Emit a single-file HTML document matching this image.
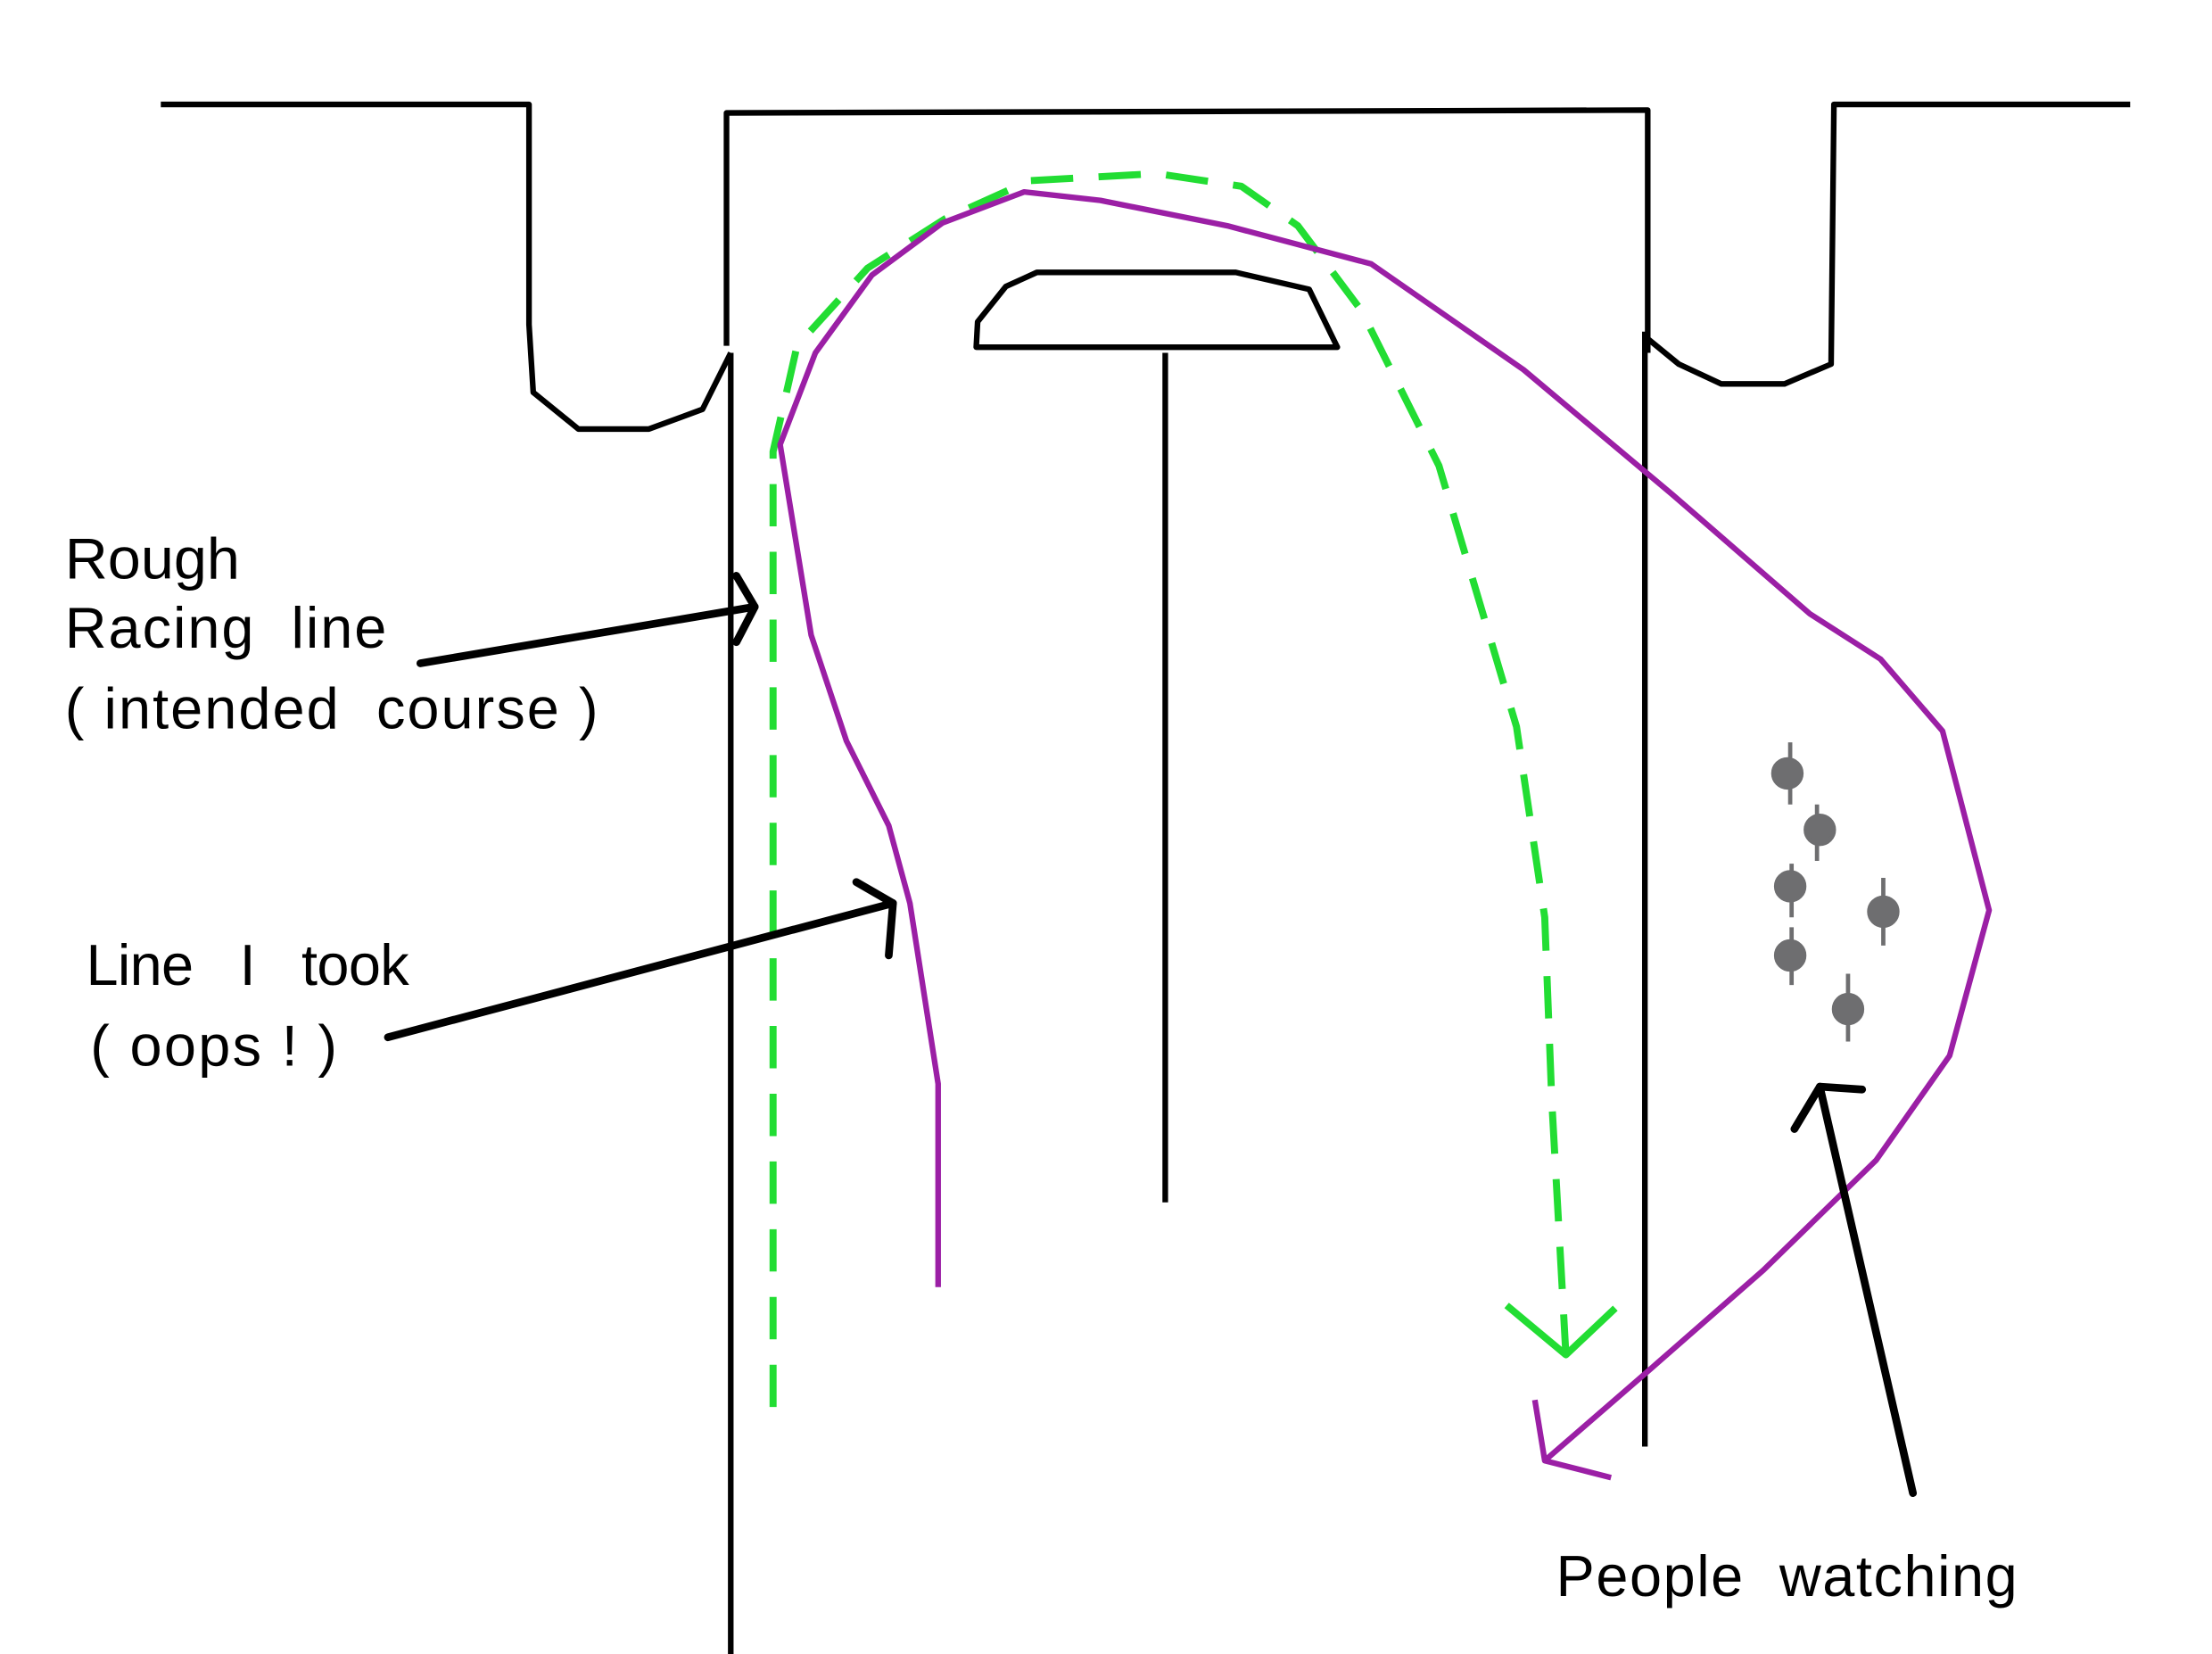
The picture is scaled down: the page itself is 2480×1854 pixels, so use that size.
<!DOCTYPE html>
<html><head><meta charset="utf-8"><style>html,body{margin:0;padding:0;background:#fff}svg{display:block}</style></head>
<body>
<svg width="2480" height="1854" viewBox="0 0 1568 1172" preserveAspectRatio="none" xmlns="http://www.w3.org/2000/svg">
<rect width="1568" height="1172" fill="#fff"/>
<g fill="none" stroke="#000" stroke-width="4" stroke-linejoin="round">
<path d="M114,74 L375,74 L375,230 L378,278 L410,304 L460,304 L498,290 L518,250"/>
<path d="M515,245 L515,80 L1168,78 L1168,250"/>
<path d="M518,250 L518,1172"/>
<path d="M1166,235 L1166,1025"/>
<path d="M1168,240 L1190,258 L1220,272 L1265,272 L1298,258 L1300,74 L1510,74"/>
<path d="M692,246 L948,246 L928,205 L876,193 L735,193 L713,203 L693,228 Z"/>
<path d="M826,250 L826,852"/>
</g>
<g fill="none" stroke="#22dd33" stroke-width="5" stroke-linejoin="round">
<path stroke-dasharray="30,18" d="M548,997 L548,320 L565,245 L615,190 L670,155 L730,128 L820,123 L880,132 L920,160 L965,220 L1020,330 L1075,515 L1095,650 L1100,780 L1110,960"/>
<path d="M1068,925 L1110,960 L1145,927"/>
</g>
<g fill="none" stroke="#9b1fa5" stroke-width="4" stroke-linejoin="round">
<path d="M665,912 L665,768 L645,640 L630,585 L600,525 L575,450 L553,315 L578,250 L618,195 L668,158 L726,136 L780,142 L870,160 L972,187 L1080,262 L1185,350 L1283,435 L1333,467 L1377,518 L1410,645 L1382,748 L1330,822 L1250,900 L1170,970 L1095,1035"/>
<path d="M1088,992 L1095,1035 L1142,1047"/>
</g>
<g fill="none" stroke="#000" stroke-width="5.5" stroke-linecap="round" stroke-linejoin="round">
<path d="M298,470 L535,430"/><path d="M522,408 L535,430 L522,455"/>
<path d="M275,735 L633,640"/><path d="M607,625 L633,640 L630,677"/>
<path d="M1356,1058 L1290,770"/><path d="M1272,800 L1290,770 L1320,772"/>
</g>
<g fill="#6e6e70" stroke="#6e6e70" stroke-width="3">
<circle cx="1267" cy="548" r="10"/><line x1="1269" y1="526" x2="1269" y2="570"/>
<circle cx="1290" cy="588" r="10"/><line x1="1288" y1="570" x2="1288" y2="610"/>
<circle cx="1269" cy="628" r="10"/><line x1="1270" y1="612" x2="1270" y2="650"/>
<circle cx="1335" cy="646" r="10"/><line x1="1335" y1="622" x2="1335" y2="670"/>
<circle cx="1269" cy="677" r="10"/><line x1="1270" y1="657" x2="1270" y2="698"/>
<circle cx="1310" cy="715" r="10"/><line x1="1310" y1="690" x2="1310" y2="738"/>
</g>
<g font-family="'Liberation Sans', 'Noto Sans CJK SC', sans-serif" font-size="41" fill="#000">
<text x="46" y="410" textLength="124" lengthAdjust="spacingAndGlyphs">Rough</text>
<text x="46" y="459" textLength="228" lengthAdjust="spacing">Racing&#160;&#160;line</text>
<text x="46" y="516" textLength="378" lengthAdjust="spacing">(&#160;intended&#160;&#160;course&#160;)</text>
<text x="61" y="698" textLength="229" lengthAdjust="spacing">Line&#160;&#160;&#160;I&#160;&#160;&#160;took</text>
<text x="64" y="755" textLength="175" lengthAdjust="spacing">(&#160;oops&#160;!&#160;)</text>
<text x="1103" y="1131" textLength="327" lengthAdjust="spacing">People&#160;&#160;watching</text>
</g>
</svg>
</body></html>
